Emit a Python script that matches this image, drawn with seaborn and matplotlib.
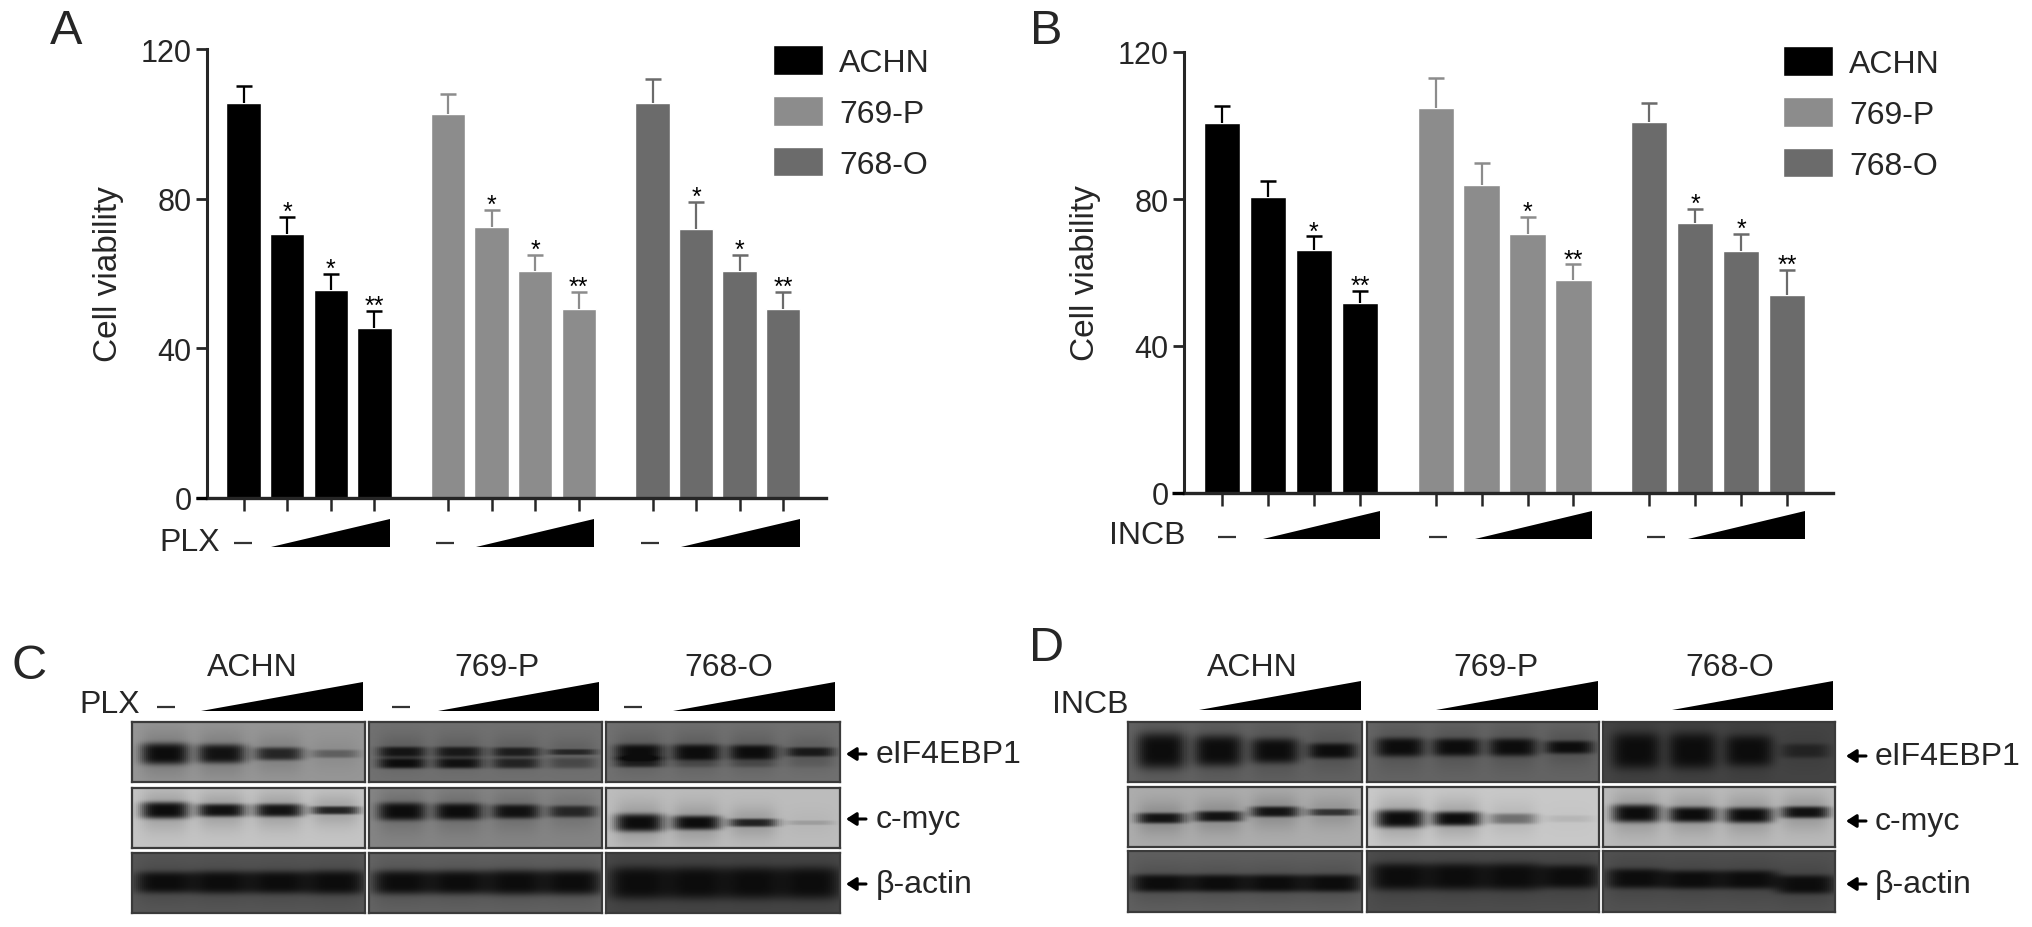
import numpy as np
import pandas as pd
import matplotlib
matplotlib.use("Agg")
import matplotlib.pyplot as plt
from matplotlib.patches import Polygon
import seaborn as sns

sns.set_theme(style="ticks")
plt.rcParams['font.family'] = ['Liberation Sans', 'DejaVu Sans']

W, H = 2032, 928

cell_lines = ['ACHN', '769-P', '768-O']
line_colors = ['#000000', '#8c8c8c', '#6b6b6b']

a_values = [[105.6, 70.5, 55.6, 45.5], [102.7, 72.5, 60.6, 50.5], [105.6, 72.0, 60.6, 50.5]]
a_errors = [[4.5, 4.5, 4.4, 4.5], [5.3, 4.5, 4.4, 4.5], [6.4, 7.0, 4.4, 4.5]]
a_stars = [['', '*', '*', '**'], ['', '*', '*', '**'], ['', '*', '*', '**']]

b_values = [[100.7, 80.5, 66.0, 51.8], [104.7, 83.9, 70.6, 57.9], [101.0, 73.6, 65.8, 53.9]]
b_errors = [[4.5, 4.5, 3.8, 3.3], [8.1, 6.0, 4.4, 4.3], [5.0, 3.8, 4.6, 6.9]]
b_stars = [['', '', '*', '**'], ['', '', '*', '**'], ['', '*', '*', '**']]

proteins = ['eIF4EBP1', 'c-myc', 'β-actin']

# blot read-outs: rows are proteins, columns are cell lines, inner lists are lanes
c_background = [[150, 112, 112], [196, 132, 188], [88, 100, 72]]
c_dark = [[[1, .95, .78, .35], [.9, .85, .8, .7], [1, 1, 1, .85]],
          [[1, .97, .95, .85], [1, 1, .95, .75], [1, 1, .85, .15]],
          [[1, 1, 1, 1], [1, 1, 1, 1], [1, 1, 1, 1]]]
c_band_y = [[.53, .5, .5], [.37, .39, .58], [.49, .49, .5]]
c_band_h = [[[.18, .16, .11, .07], [.09, .09, .08, .05], [.13, .13, .12, .08]],
            [[.14, .11, .11, .07], [.15, .14, .12, .1], [.15, .12, .07, .04]],
            [[.18, .19, .19, .2], [.2, .2, .21, .21], [.27, .27, .27, .27]]]
c_lower = [[[0, 0, 0, 0], [1, .95, .75, .35], [.8, .3, .3, .1]],
           [[0, 0, 0, 0], [0, 0, 0, 0], [0, 0, 0, 0]],
           [[0, 0, 0, 0], [0, 0, 0, 0], [0, 0, 0, 0]]]
c_lower_y = [[.68, .69, .67], [.6, .6, .6], [.7, .7, .7]]

d_background = [[98, 100, 68], [172, 200, 186], [96, 78, 82]]
d_dark = [[[1, 1, 1, 1], [1, 1, 1, 1], [1, 1, 1, .55]],
          [[.95, .95, .95, .72], [1, 1, .42, .08], [1, 1, 1, .97]],
          [[1, 1, 1, 1], [1, 1, 1, 1], [1, 1, 1, 1]]]
d_band_y = [[.48, .42, .48],
            [[.52, .49, .41, .42], .53, [.44, .46, .47, .42]],
            [.53, .42, [.45, .47, .47, .55]]]
d_band_h = [[[.3, .26, .21, .13], [.16, .15, .15, .11], [.3, .3, .26, .12]],
            [[.09, .09, .09, .06], [.15, .12, .09, .06], [.15, .13, .13, .1]],
            [[.14, .14, .14, .14], [.22, .22, .22, .19], [.16, .15, .15, .15]]]


def px_axes(x0, y0, x1, y1):
    return fig.add_axes([x0 / W, 1 - y1 / H, (x1 - x0) / W, (y1 - y0) / H])


def draw_bars(ax, values, errors, stars, step, legend_xy):
    rows = []
    for i, name in enumerate(cell_lines):
        for j in range(4):
            rows.append({'pos': i * step + j, 'line': name, 'viability': values[i][j],
                         'err': errors[i][j], 'star': stars[i][j]})
    df = pd.DataFrame(rows)
    df['top'] = df['viability'] + df['err']
    sns.barplot(data=df, x='pos', y='viability', hue='line', palette=line_colors, native_scale=True,
                dodge=False, width=0.79, errorbar=None, saturation=1, ax=ax)
    # upper whisker only, no cap at the bar top
    for i, name in enumerate(cell_lines):
        sub = df[df['line'] == name]
        ax.vlines(sub['pos'], sub['viability'], sub['top'], color=line_colors[i], lw=1.6)
        ax.plot(sub['pos'], sub['top'], ls='none', marker='_', ms=12, mew=1.8, color=line_colors[i])
    for _, row in df.iterrows():
        ax.annotate(row['star'], (row['pos'], row['top']), xytext=(0, -5),
                    textcoords='offset points', ha='center', va='bottom', fontsize=18, color='black')
    ax.set_ylim(0, 120)
    ax.set_yticks([0, 40, 80, 120])
    ax.set_xticks(df['pos'])
    ax.set_xticklabels([])
    ax.set_xlabel('')
    ax.set_ylabel('Cell viability', fontsize=24, labelpad=12)
    ax.tick_params(axis='y', labelsize=22, length=8, width=2, pad=3)
    ax.tick_params(axis='x', length=9.5, width=1.8)
    sns.despine(ax=ax)
    ax.spines['left'].set_linewidth(2.2)
    ax.spines['bottom'].set_linewidth(2.4)
    ax.patch.set_alpha(0)
    handles, labels = ax.get_legend_handles_labels()
    ax.legend(handles, labels, frameon=False, fontsize=23, handlelength=1.565, handleheight=1.05,
              handletextpad=0.5, labelspacing=0.57, borderpad=0, borderaxespad=0, loc='upper left',
              bbox_to_anchor=(legend_xy[0] / W, 1 - legend_xy[1] / H), bbox_transform=fig.transFigure)


def blot_matrix(bg, dark, band_y, band_h, lower, lower_y, lane_w):
    v, u = np.mgrid[0:1:60j, 0:1:116j]
    lanes = [.14, .385, .63, .875]
    band_y = np.broadcast_to(band_y, (4,))
    ink = np.zeros_like(u)
    halo = np.zeros_like(u)
    for k in range(4):
        across = np.exp(-((u - lanes[k]) / lane_w) ** 4)
        ink += dark[k] * across * np.exp(-((v - band_y[k]) / band_h[k]) ** 4)
        ink += lower[k] * across * np.exp(-((v - lower_y) / .09) ** 4)
        halo += dark[k] * across * np.exp(-((v - band_y[k]) / (band_h[k] + .2)) ** 2)
    ink = np.clip(ink, 0, 1)
    return 12 + (bg - 12) * (1 - .22 * np.clip(halo, 0, 1)) * (1 - ink)


def draw_blots(columns, rows, background, dark, band_y, band_h, lower=None, lower_y=None):
    for r, (y0, y1) in enumerate(rows):
        lane_w = .128 if proteins[r] == 'β-actin' else .104
        for c, (x0, x1) in enumerate(columns):
            ax = px_axes(x0, y0, x1, y1)
            low = lower[r][c] if lower else [0, 0, 0, 0]
            low_y = lower_y[r][c] if lower_y else .7
            m = blot_matrix(background[r][c], dark[r][c], band_y[r][c], band_h[r][c], low, low_y, lane_w)
            sns.heatmap(m, cmap='gray', vmin=0, vmax=255, cbar=False, xticklabels=False,
                        yticklabels=False, ax=ax)
            for s in ax.spines.values():
                s.set_visible(True)
                s.set_color('#3a3a3a')
                s.set_linewidth(1.6)


def ramp(x0, x1, bottom, top):
    over.add_patch(Polygon([(x0, bottom), (x1, bottom), (x1, top)], closed=True, color='black', lw=0))


def dash(x, y):
    over.plot([x - 9, x + 9], [y, y], color='#333333', lw=1.6, solid_capstyle='butt')


def label_blot(x_arrow, x_text, ys):
    for name, y in zip(proteins, ys):
        over.annotate('', xy=(x_arrow, y), xytext=(x_arrow + 20, y),
                      arrowprops=dict(arrowstyle='-|>,head_width=0.32,head_length=0.5', lw=2.2, color='black',
                                      shrinkA=0, shrinkB=0))
        over.text(x_text, y, name, fontsize=23, ha='left', va='center')


fig = plt.figure(figsize=(W / 100, H / 100), dpi=100)

ax_a = px_axes(207, 50, 826, 499)
draw_bars(ax_a, a_values, a_errors, a_stars, 4.69, (773, 46))
ax_a.set_xlim(-0.84, 13.36)
ax_b = px_axes(1184, 53, 1833, 494)
draw_bars(ax_b, b_values, b_errors, b_stars, 4.65, (1783, 47))
ax_b.set_xlim(-0.83, 13.3)

draw_blots([(132, 365), (369, 602), (606, 840)], [(723, 783), (789, 849), (854, 914)],
           c_background, c_dark, c_band_y, c_band_h, c_lower, c_lower_y)
draw_blots([(1128, 1362), (1367, 1599), (1603, 1835)], [(723, 783), (788, 848), (852, 913)],
           d_background, d_dark, d_band_y, d_band_h)

# overlay in reference pixels for panel letters, dose wedges and blot labels
over = fig.add_axes([0, 0, 1, 1])
over.set_xlim(0, W)
over.set_ylim(H, 0)
over.axis('off')

over.plot([196, 207], [499, 499], color='black', lw=2.4, solid_capstyle='butt')
over.plot([1172, 1184], [494, 494], color='black', lw=2.4, solid_capstyle='butt')

for letter, x, y in [('A', 66, 31), ('B', 1046, 32), ('C', 29, 667), ('D', 1047, 649)]:
    over.text(x, y, letter, fontsize=35, ha='center', va='center')

for x0, x1 in [(271, 390), (476, 594), (681, 800)]:
    ramp(x0, x1, 548, 520)
for x in [243, 445, 650]:
    dash(x, 544)
over.text(190, 543, 'PLX', fontsize=23, ha='center', va='center')

for x0, x1 in [(1263, 1380), (1475, 1592), (1688, 1805)]:
    ramp(x0, x1, 540, 512)
for x in [1227, 1438, 1656]:
    dash(x, 538)
over.text(1147, 536, 'INCB', fontsize=23, ha='center', va='center')

for name, x in zip(cell_lines, [252, 497, 729]):
    over.text(x, 668, name, fontsize=23, ha='center', va='center')
for x0, x1 in [(201, 363), (438, 599), (673, 835)]:
    ramp(x0, x1, 712, 683)
for x in [166, 401, 633]:
    dash(x, 708)
over.text(110, 705, 'PLX', fontsize=23, ha='center', va='center')
label_blot(846, 876, [755, 820, 885])

for name, x in zip(cell_lines, [1252, 1496, 1730]):
    over.text(x, 668, name, fontsize=23, ha='center', va='center')
for x0, x1 in [(1199, 1361), (1436, 1598), (1672, 1833)]:
    ramp(x0, x1, 711, 682)
over.text(1090, 705, 'INCB', fontsize=23, ha='center', va='center')
label_blot(1846, 1875, [757, 822, 885])

fig.savefig('out.png', dpi=100)
